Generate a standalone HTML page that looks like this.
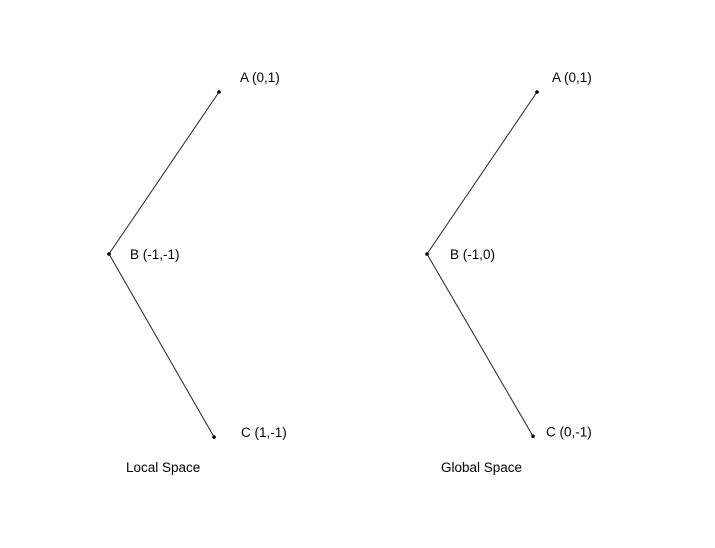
<!DOCTYPE html>
<html><head><meta charset="utf-8"><style>
body{margin:0;background:#fff;}
svg text{font-family:"Liberation Sans",sans-serif;font-size:13.5px;fill:#000;}
</style></head><body>
<svg id="chart" width="715" height="543"></svg>
<script>
const panels = ["Local Space", "Global Space"];
const pointNames = ["A (0,1)", "B (-1,-1)", "C (1,-1)"];
const pointNames2 = ["A (0,1)", "B (-1,0)", "C (0,-1)"];
const leftX = [1, 0, 0.955];
const leftY = [1, 0, -1.13];
const rightX = [1, 0, 0.964];
const rightY = [1, 0, -1.125];

const NS = "http://www.w3.org/2000/svg";
const svg = document.getElementById("chart");
const origins = [109, 427];
const labelOff = [[21, 21, 27], [15, 23, 13]];
const titleX = [126, 441];
function sx(panel, v){ return origins[panel] + v * 110; }
function sy(v){ return 254 - v * 162; }

const sets = [[leftX, leftY, pointNames], [rightX, rightY, pointNames2]];
sets.forEach((s, p) => {
  const [xs, ys, names] = s;
  const g = document.createElementNS(NS, "g");
  
  
  svg.appendChild(g);
  const pl = document.createElementNS(NS, "polyline");
  pl.setAttribute("points", xs.map((x, i) => sx(p, x) + "," + sy(ys[i])).join(" "));
  pl.setAttribute("fill", "none");
  pl.setAttribute("stroke", "#222");
  pl.setAttribute("stroke-width", "1");
  
  
  g.appendChild(pl);
  xs.forEach((x, i) => {
    const c = document.createElementNS(NS, "circle");
    c.setAttribute("cx", sx(p, x));
    c.setAttribute("cy", sy(ys[i]));
    c.setAttribute("r", "1.8");
    c.setAttribute("fill", "#000");
    
    
    g.appendChild(c);
    const t = document.createElementNS(NS, "text");
    const dy = i === 0 ? -15 : (i === 2 ? -5 : 0);
    t.setAttribute("x", sx(p, x) + labelOff[p][i]);
    t.setAttribute("y", sy(ys[i]) + dy + 5);
    t.textContent = names[i];
    
    
    g.appendChild(t);
  });
  const title = document.createElementNS(NS, "text");
  title.setAttribute("x", titleX[p]);
  title.setAttribute("y", 472);
  title.textContent = panels[p];
  
  
  g.appendChild(title);
});
</script>
</body></html>
